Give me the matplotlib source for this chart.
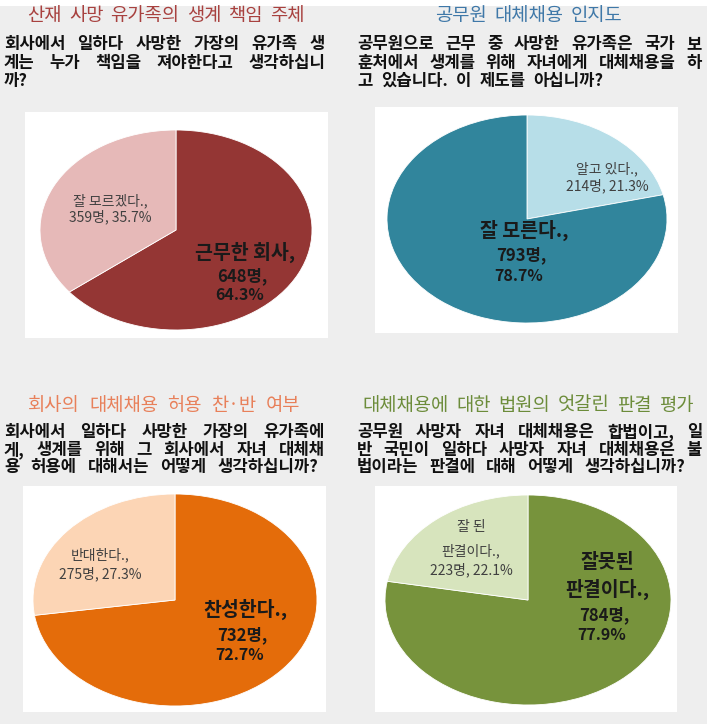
import matplotlib
matplotlib.use('Agg')
import matplotlib.pyplot as plt

plt.rcParams['font.family'] = ['Noto Sans CJK KR', 'DejaVu Sans']

W, H = 707, 724

# 패널 순서: 좌상, 우상, 좌하, 우하
titles = ['산재 사망 유가족의 생계 책임 주체',
          '공무원 대체채용 인지도',
          '회사의 대체채용 허용 찬·반 여부',
          '대체채용에 대한 법원의 엇갈린 판결 평가']
title_colors = ['#a8413f', '#3f78a8', '#e8805a', '#6c8c3a']

questions = [
    ['회사에서 일하다 사망한 가장의 유가족 생',
     '계는 누가 책임을 져야한다고 생각하십니',
     '까?'],
    ['공무원으로 근무 중 사망한 유가족은 국가 보',
     '훈처에서 생계를 위해 자녀에게 대체채용을 하',
     '고 있습니다. 이 제도를 아십니까?'],
    ['회사에서 일하다 사망한 가장의 유가족에',
     '게, 생계를 위해 그 회사에서 자녀 대체채',
     '용 허용에 대해서는 어떻게 생각하십니까?'],
    ['공무원 사망자 자녀 대체채용은 합법이고, 일',
     '반 국민이 일하다 사망자 자녀 대체채용은 불',
     '법이라는 판결에 대해 어떻게 생각하십니까?'],
]

# 시계방향, 12시 방향부터
counts = [[648, 359], [214, 793], [732, 275], [784, 223]]
names = [['근무한 회사,', '잘 모르겠다.,'],
         ['알고 있다.,', '잘 모른다.,'],
         ['찬성한다.,', '반대한다.,'],
         ['잘못된\n판결이다.,', '잘 된\n판결이다.,']]
pcts = [['64.3%', '35.7%'], ['21.3%', '78.7%'], ['72.7%', '27.3%'], ['77.9%', '22.1%']]
slice_colors = [['#943634', '#e6b9b8'],
                ['#b7dee8', '#31859c'],
                ['#e46c0a', '#fcd5b5'],
                ['#77933c', '#d7e4bd']]
big = [0, 1, 0, 0]  # 큰 조각 인덱스

# 레이아웃 (픽셀)
title_span = [(27, 305, 15), (435, 622, 15), (28, 300, 405), (362, 694, 405)]
q_x = [(4, 325), (357, 702), (4, 325), (357, 702)]
q_last = [None, None, 318, 685]
q_y = [(44, 63, 81), (44, 63, 81), (432, 450, 467), (432, 450, 467)]
boxes = [(25, 112, 328, 338), (375, 107, 678, 333), (23, 486, 326, 712), (375, 486, 677, 712)]
ellipses = [(176, 230, 136, 100), (527, 219, 140, 104), (175, 600, 142, 106), (528, 600, 143, 105)]
big_pos = [(245, 252, 276, 295), (524, 230, 255, 276), (245, 609, 635, 655), (607, 575, 615, 635)]
small_pos = [(110, 201, 217), (607, 169, 186), (100, 555, 574), (471, 539, 570)]

fig = plt.figure(figsize=(W / 100, H / 100), dpi=100)
fig.patch.set_facecolor('#eeeeee')
fig.patches.append(plt.Rectangle((0, 1 - 6 / H), 1, 6 / H, transform=fig.transFigure,
                                 facecolor='white', edgecolor='none'))
renderer = fig.canvas.get_renderer()


def fx(px):
    return px / W


def fy(py):
    return 1 - py / H


def justify(line, x0, x1, y, **kw):
    words = line.split(' ')
    ts = [fig.text(fx(x0), fy(y), w, va='center', ha='left', **kw) for w in words]
    if x1 is None or len(words) == 1:
        sp = fig.text(0, 0, '가 가', **kw)
        sp2 = fig.text(0, 0, '가가', **kw)
        gap = sp.get_window_extent(renderer).width - sp2.get_window_extent(renderer).width
        sp.remove()
        sp2.remove()
        gap *= 2.2
    else:
        ws = [t.get_window_extent(renderer).width for t in ts]
        gap = (x1 - x0 - sum(ws)) / (len(words) - 1)
    x = x0
    for t in ts:
        t.set_x(fx(x))
        x += t.get_window_extent(renderer).width + gap


for i in range(4):
    # 제목
    x0, x1, ty = title_span[i]
    justify(titles[i], x0, x1, ty, fontsize=13.5, fontweight='medium', color=title_colors[i])
    # 질문
    qx0, qx1 = q_x[i]
    for j, line in enumerate(questions[i]):
        end = qx1 if j < 2 else q_last[i]
        justify(line, qx0, end, q_y[i][j], fontsize=12, fontweight='heavy', color='#111111')

    # 파이
    bx0, by0, bx1, by1 = boxes[i]
    cx, cy, rx, ry = ellipses[i]
    ax = fig.add_axes([fx(bx0), fy(by1), (bx1 - bx0) / W, (by1 - by0) / H])
    ax.pie(counts[i], colors=slice_colors[i], startangle=90, counterclock=False,
           wedgeprops=dict(edgecolor='white', linewidth=0.6))
    ax.set_aspect('auto')
    ax.set_xlim((bx0 - cx) / rx, (bx1 - cx) / rx)
    ax.set_ylim((cy - by1) / ry, (cy - by0) / ry)
    ax.set_frame_on(True)
    for s in ax.spines.values():
        s.set_visible(False)
    ax.set_facecolor('white')
    ax.set_xticks([])
    ax.set_yticks([])

    # 큰 조각 라벨
    b = big[i]
    s = 1 - b
    px, y1, y2, y3 = big_pos[i]
    lab = dict(ha='center', va='center', fontweight='bold', color='#1a1a1a')
    name_lines = names[i][b].split('\n')
    if len(name_lines) == 1:
        fig.text(fx(px), fy(y1), name_lines[0], fontsize=14, **lab)
    else:
        fig.text(fx(px), fy(y1 - 13), name_lines[0], fontsize=14, **lab)
        fig.text(fx(px), fy(y1 + 14), name_lines[1], fontsize=14, **lab)
    fig.text(fx(px - 3), fy(y2), f'{counts[i][b]}명,', fontsize=12, **lab)
    fig.text(fx(px - 5), fy(y3), pcts[i][b], fontsize=11.5, **lab)

    # 작은 조각 라벨
    sx, sy1, sy2 = small_pos[i]
    slab = dict(ha='center', va='center', fontsize=10, color='#404040')
    small_lines = names[i][s].split('\n')
    if len(small_lines) == 1:
        fig.text(fx(sx), fy(sy1), small_lines[0], **slab)
    else:
        fig.text(fx(sx), fy(sy1 - 12), small_lines[0], **slab)
        fig.text(fx(sx), fy(sy1 + 12), small_lines[1], **slab)
    fig.text(fx(sx), fy(sy2), f'{counts[i][s]}명, {pcts[i][s]}', **slab)

fig.savefig('out.png', dpi=100, facecolor=fig.get_facecolor())
